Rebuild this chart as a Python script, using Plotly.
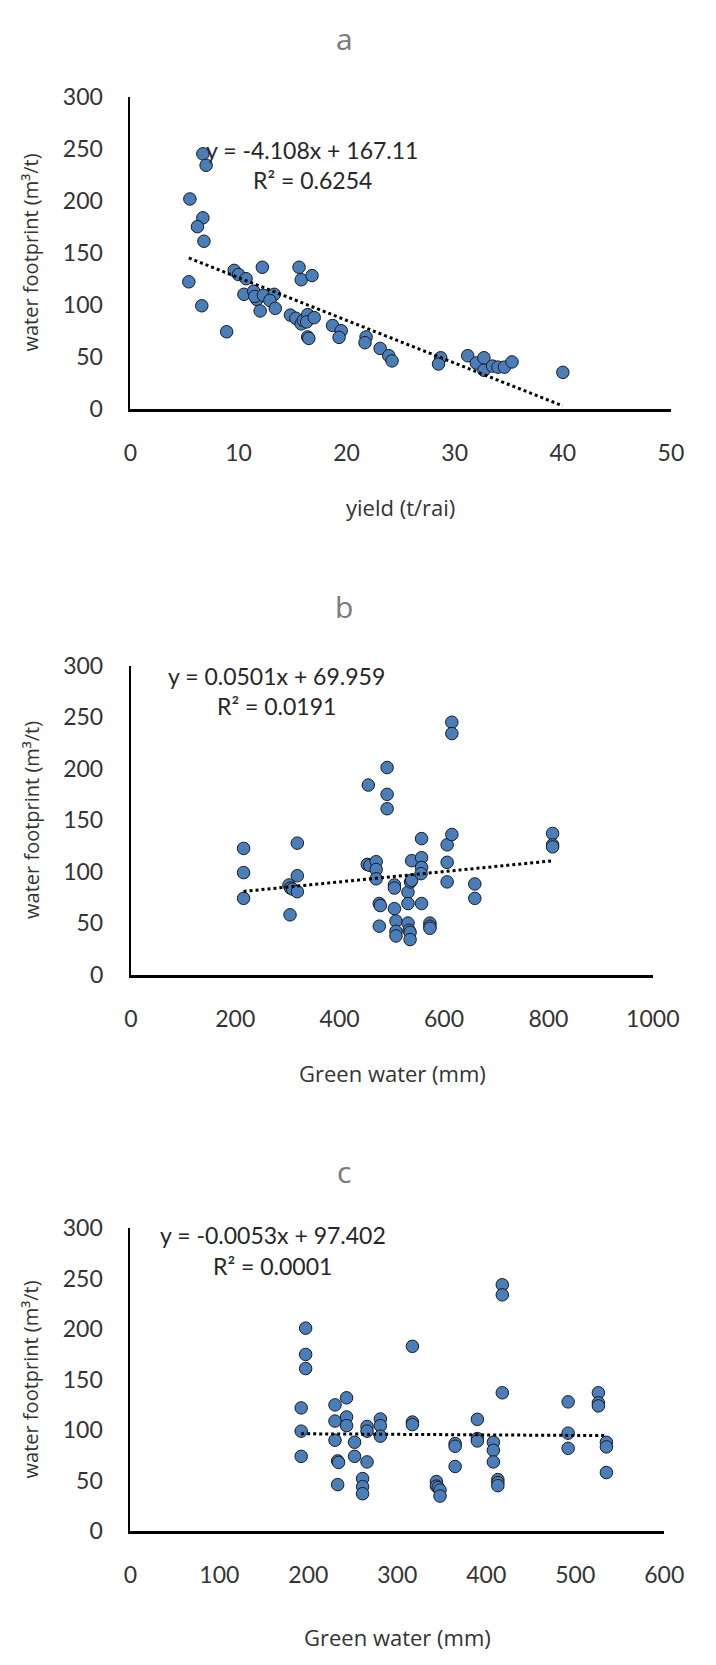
import plotly.graph_objects as go

# ---------------- data ----------------
yield_a = [6.7, 7.0, 5.5, 6.7, 6.2, 6.8, 5.4, 6.6, 8.9, 9.6, 10.0, 10.7, 12.2, 10.5, 11.4,
           11.7, 11.5, 12.0, 12.3, 13.3, 12.9, 13.4, 14.8, 15.3, 15.6, 15.8, 16.8, 15.8,
           16.0, 16.4, 16.3, 17.0, 16.4, 16.5, 18.7, 19.5, 19.3, 21.8, 21.7, 23.1, 23.9,
           24.2, 28.7, 28.5, 31.2, 32.0, 32.7, 32.7, 33.5, 34.0, 34.6, 35.3, 40.0]
wf_a = [245, 234, 201.6, 183.5, 175, 161, 122, 99, 74, 133, 129, 125, 136, 110, 113,
        105, 108, 94, 109, 110, 104, 96.5, 90, 87, 136, 124, 128, 81.6,
        85, 90.5, 83.5, 87.6, 69, 67.6, 80, 75, 68.6, 69, 63.5, 58, 51,
        46, 49, 43, 51, 44, 49, 37, 41, 40, 40, 45, 35]

gw_b = [216, 216, 216, 305, 303, 306, 310, 319, 319, 319, 455, 491, 491, 491, 453, 458,
        470, 470, 470, 476, 478, 476, 505, 505, 505, 508, 508, 508, 531, 531, 531, 533,
        535, 535, 536, 538, 538, 557, 557, 557, 556, 557, 573, 573, 573, 606, 606, 606,
        615, 615, 615, 659, 659, 808, 808, 808]
wf_b = [122.5, 99, 74, 58, 87, 84, 83, 127.6, 96, 80.5, 184, 201, 175, 161, 107, 106,
        109.6, 102, 93, 69, 67, 47, 87, 84, 64, 52, 42, 37.5, 80, 69, 50, 43,
        41, 34, 90, 91.6, 110.6, 132, 113.5, 104, 98, 69, 50, 47, 45, 126, 109, 90,
        245, 234, 136, 88, 74, 137, 126, 124]

gw_c = [192, 192, 192, 197, 197, 197, 230, 230, 230, 233, 234, 233, 243, 243, 243, 252,
        252, 261, 261, 261, 266, 266, 266, 281, 281, 281, 317, 317, 317, 344, 344, 346,
        348, 348, 365, 365, 365, 390, 390, 390, 408, 408, 408, 413, 413, 413, 418, 418,
        418, 492, 492, 492, 526, 526, 526, 535, 535, 535]
wf_c = [122, 99, 74, 201, 175, 161, 125, 109, 90, 69.5, 68, 46, 132, 113, 104.5, 88,
        74, 52, 44, 37, 103.6, 99, 68.5, 111, 104.5, 94, 183, 108, 105.5, 49, 44.5, 43,
        40.6, 34.7, 86.7, 84, 64, 110.7, 91.6, 89.3, 88, 80, 68.5, 51, 48, 45, 244, 234,
        137, 128, 97, 82, 137, 127, 124, 88, 83.4, 58]

# trend lines (from the equations shown on the chart)
trend_slope = [-4.108, 0.0501, -0.0053]
trend_icpt = [167.11, 69.959, 97.402]
trend_x0 = [5.4, 216, 192]
trend_x1 = [40.0, 808, 535]

eq_text = ["y = -4.108x + 167.11", "y = 0.0501x + 69.959", "y = -0.0053x + 97.402"]
r2_text = ["R² = 0.6254", "R² = 0.0191", "R² = 0.0001"]
panel_titles = ["a", "b", "c"]
x_titles = ["yield (t/rai)", "Green water (mm)", "Green water (mm)"]
y_title = "water footprint (m³/t)"
x_ranges = [[0, 50], [0, 1000], [0, 600]]
x_dticks = [10, 200, 100]

# ---------------- layout geometry (pixels) ----------------
W, H = 716, 1665
plots = [  # left, right, top(y=300), bottom(y=0)
    (129.6, 697.0, 83.0, 400.5),
    (130.0, 678.0, 661.7, 976.0),
    (129.5, 690.0, 1234.0, 1542.0),
]
title_y = [24, 602, 1176]
xtitle_y = [500, 1076, 1650]
xtitle_x = [413, 405, 410]
eq_pos = [(16.8, 249, 219.6), (280, 290, 260.5), (160, 293, 263)]

NUMFONT = "Lato, Liberation Sans, sans-serif"
TICKFONT = dict(family=NUMFONT, size=23, color="#333333")
MARK = "#4A7EBB"

fig = go.Figure()
annotations = []
for i in range(3):
    xs = ["x", "x2", "x3"][i]
    ys = ["y", "y2", "y3"][i]
    xd = [yield_a, gw_b, gw_c][i]
    yd = [wf_a, wf_b, wf_c][i]
    fig.add_trace(go.Scatter(
        x=xd, y=yd, mode="markers", xaxis=xs, yaxis=ys, showlegend=False,
        marker=dict(size=12.5, color=MARK, line=dict(color="#1a1a1a", width=1)),
    ))
    tx = [trend_x0[i], trend_x1[i]]
    ty = [trend_slope[i] * v + trend_icpt[i] for v in tx]
    fig.add_trace(go.Scatter(
        x=tx, y=ty, mode="lines", xaxis=xs, yaxis=ys, showlegend=False,
        line=dict(color="black", width=3, dash="dot"),
    ))
    l, r, t, b = plots[i]
    axn = "" if i == 0 else str(i + 1)
    fig.update_layout(**{
        "xaxis" + axn: dict(
            domain=[l / W, r / W], anchor=ys, range=x_ranges[i], dtick=x_dticks[i],
            tick0=0, showgrid=False, zeroline=False, showline=True, linecolor="black",
            linewidth=2.5, ticks="outside", ticklen=22, tickcolor="rgba(0,0,0,0)",
            tickfont=TICKFONT, fixedrange=True,
        ),
        "yaxis" + axn: dict(
            domain=[1 - b / H, 1 - t / H], anchor=xs, range=[0, 300], dtick=50,
            showgrid=False, zeroline=False, showline=True, linecolor="black",
            linewidth=2, ticks="outside", ticklen=21, tickcolor="rgba(0,0,0,0)",
            tickfont=TICKFONT, fixedrange=True,
        ),
    })
    ex, ey, ry = eq_pos[i]
    annotations.append(dict(x=ex, y=ey, xref=xs, yref=ys, text=eq_text[i], showarrow=False,
                            xanchor="center", yanchor="middle",
                            font=dict(family=NUMFONT, size=23, color="#262626")))
    annotations.append(dict(x=ex, y=ry, xref=xs, yref=ys, text=r2_text[i], showarrow=False,
                            xanchor="center", yanchor="middle",
                            font=dict(family=NUMFONT, size=23, color="#262626")))
    annotations.append(dict(x=354 / W, y=1 - title_y[i] / H, xref="paper", yref="paper",
                            text=panel_titles[i], showarrow=False, xanchor="center", yanchor="middle",
                            font=dict(family="Open Sans, sans-serif", size=30, color="#7a7a7a")))
    annotations.append(dict(x=xtitle_x[i] / W, y=1 - xtitle_y[i] / H, xref="paper", yref="paper",
                            text=x_titles[i], showarrow=False, xanchor="center", yanchor="middle",
                            font=dict(family="Open Sans, sans-serif", size=22, color="#333333")))
    annotations.append(dict(x=25 / W, y=1 - ((t + b) / 2) / H, xref="paper", yref="paper",
                            text=y_title, showarrow=False, textangle=-90,
                            xanchor="center", yanchor="middle",
                            font=dict(family="Open Sans, sans-serif", size=20, color="#333333")))

fig.update_layout(
    width=W, height=H, margin=dict(l=0, r=0, t=0, b=0),
    paper_bgcolor="white", plot_bgcolor="white",
    annotations=annotations,
)

fig.write_html("out.html")
